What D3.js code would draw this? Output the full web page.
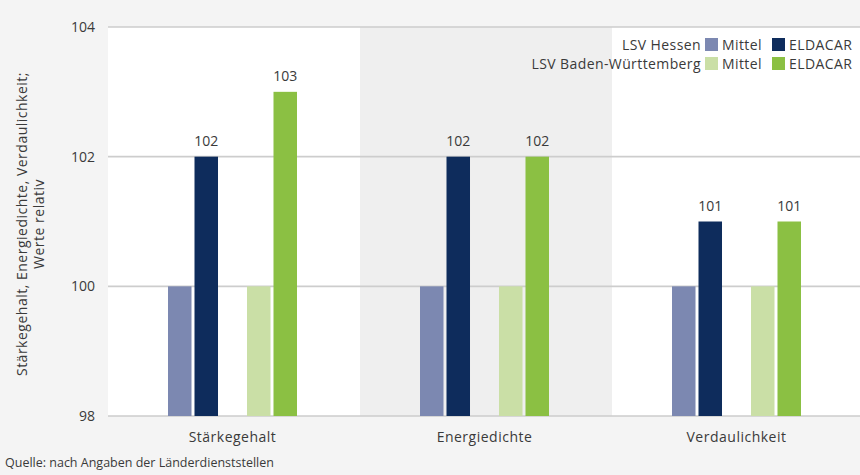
<!DOCTYPE html>
<html lang="de">
<head>
<meta charset="UTF-8">
<title>Stärkegehalt, Energiedichte, Verdaulichkeit</title>
<style>
  body{margin:0;background:#f4f4f4;}
  svg{display:block;font-family:"Open Sans",sans-serif;}
</style>
</head>
<body>
<script src="https://cdn.jsdelivr.net/npm/d3@7"></script>
<script>
var categories=['Stärkegehalt','Energiedichte','Verdaulichkeit']
var regions=['LSV Hessen','LSV Baden-Württemberg']
var kinds=['Mittel','ELDACAR']
var hessenMittel=[100,100,100]
var hessenEldacar=[102,102,101]
var bwMittel=[100,100,100]
var bwEldacar=[103,102,101]
var yTicks=[98,100,102,104]

var colors={'LSV Hessen':{Mittel:'#7c88b1',ELDACAR:'#0e2c5c'},
            'LSV Baden-Württemberg':{Mittel:'#cadfa6',ELDACAR:'#8bc043'}}
var values={'LSV Hessen':{Mittel:hessenMittel,ELDACAR:hessenEldacar},
            'LSV Baden-Württemberg':{Mittel:bwMittel,ELDACAR:bwEldacar}}

var width=860,height=475
var plot={left:108,right:864,top:27,bottom:416}
var ink='#3a3a3a'

var svg=d3.select('body').append('svg').attr('width',width).attr('height',height)

var x=d3.scaleBand().domain(categories).range([plot.left,plot.right])
var xRegion=d3.scaleBand().domain(regions).range([60,189]).paddingInner(0.367)
var xKind=d3.scaleBand().domain(kinds).range([0,xRegion.bandwidth()]).paddingInner(0.113)
var y=d3.scaleLinear().domain([98,104]).range([plot.bottom,plot.top])

// band backgrounds
svg.selectAll('rect.band').data(categories).enter().append('rect')
   .attr('class','band')
   .attr('x',d=>x(d)).attr('y',plot.top)
   .attr('width',x.bandwidth()).attr('height',plot.bottom-plot.top)
   .attr('fill',(d,i)=>i==1?'#efefef':'#ffffff')

// gridlines
svg.selectAll('line.grid').data(yTicks).enter().append('line')
   .attr('x1',plot.left).attr('x2',plot.right)
   .attr('y1',d=>y(d)).attr('y2',d=>y(d))
   .attr('stroke','#cdcdcd').attr('stroke-width',1.6)

// y tick labels
svg.selectAll('text.ytick').data(yTicks).enter().append('text')
   .attr('x',95).attr('y',d=>y(d)+5)
   .attr('text-anchor','end').attr('font-size',14).attr('fill',ink)
   .text(d=>d)

// bars
var bars=[]
categories.forEach(function(c,ci){
    regions.forEach(function(r){
        kinds.forEach(function(k){
            bars.push({cat:c,region:r,kind:k,value:values[r][k][ci]})
        })
    })
})
svg.selectAll('rect.bar').data(bars).enter().append('rect')
   .attr('x',d=>x(d.cat)+xRegion(d.region)+xKind(d.kind))
   .attr('y',d=>y(d.value))
   .attr('width',xKind.bandwidth())
   .attr('height',d=>y(98)-y(d.value))
   .attr('fill',d=>colors[d.region][d.kind])

// value labels on ELDACAR bars
svg.selectAll('text.val').data(bars.filter(d=>d.kind=='ELDACAR')).enter().append('text')
   .attr('x',d=>x(d.cat)+xRegion(d.region)+xKind(d.kind)+xKind.bandwidth()/2)
   .attr('y',d=>y(d.value)-11)
   .attr('text-anchor','middle').attr('font-size',14).attr('fill',ink)
   .text(d=>d.value)

// category labels
svg.selectAll('text.cat').data(categories).enter().append('text')
   .attr('x',d=>x(d)+xRegion.range()[0]+(xRegion.range()[1]-xRegion.range()[0])/2)
   .attr('y',442)
   .attr('text-anchor','middle').attr('font-size',14).attr('letter-spacing',0.5).attr('fill',ink)
   .text(d=>d)

// y axis title
var yt=svg.append('text').attr('transform','translate(27,224) rotate(-90)')
   .attr('text-anchor','middle').attr('font-size',14).attr('letter-spacing',0.5).attr('fill',ink)
yt.append('tspan').attr('x',0).attr('dy',0).text('Stärkegehalt, Energiedichte, Verdaulichkeit;')
yt.append('tspan').attr('x',0).attr('dy',17).text('Werte relativ')

// legend
var legend=svg.append('g').attr('font-size',14).attr('letter-spacing',0.4).attr('fill',ink)
regions.forEach(function(r,ri){
    var ly=45+ri*19
    legend.append('text').attr('x',701).attr('y',ly+5)
          .attr('text-anchor','end').text(r)
    legend.append('rect').attr('x',705).attr('y',ly-7).attr('width',13).attr('height',13)
          .attr('fill',colors[r].Mittel)
    legend.append('text').attr('x',722).attr('y',ly+5).text('Mittel')
    legend.append('rect').attr('x',772).attr('y',ly-7).attr('width',13).attr('height',13)
          .attr('fill',colors[r].ELDACAR)
    legend.append('text').attr('x',789).attr('y',ly+5).text('ELDACAR')
})

// source
svg.append('text').attr('x',5).attr('y',467).attr('font-size',12.5).attr('fill',ink)
   .text('Quelle: nach Angaben der Länderdienststellen')
</script>
</body>
</html>
